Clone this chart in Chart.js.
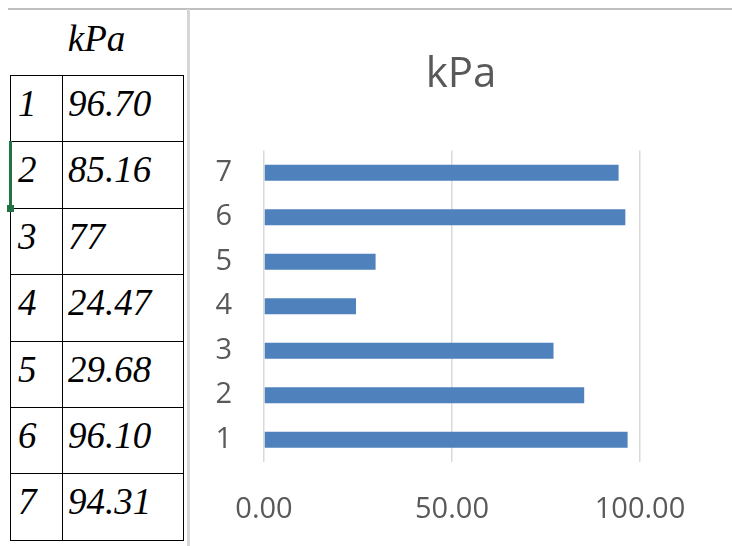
<!DOCTYPE html>
<html>
<head>
<meta charset="utf-8">
<script src="https://cdn.jsdelivr.net/npm/chart.js@4/dist/chart.umd.min.js"></script>
<style>
  html,body{margin:0;padding:0;background:#fff;width:732px;height:546px;overflow:hidden;}
  #topline{position:absolute;left:8px;top:8px;width:724px;height:2px;background:#bfbfbf;}
  #vline{position:absolute;left:187px;top:9px;width:3px;height:537px;background:#d6d6d6;}
  #tbl{position:absolute;left:10px;top:75px;border-collapse:collapse;font-family:"Liberation Serif","Times New Roman",serif;font-style:italic;font-size:37px;color:#000;}
  #tbl td{border:1.5px solid #000;height:66.4px;padding:0;vertical-align:top;line-height:37px;box-sizing:border-box;}
  #tbl td.a{width:52px;padding-left:7px;}
  #tbl td.b{width:121px;padding-left:5px;}
  #tbl td div{margin-top:9px;}
  #hdr{position:absolute;left:10px;width:173px;top:20px;text-align:center;font-family:"Liberation Serif","Times New Roman",serif;font-style:italic;font-size:37px;line-height:37px;}
  #sel{position:absolute;left:9px;top:141px;width:3px;height:67px;background:#217346;}
  #selb{position:absolute;left:7px;top:205px;width:7px;height:7px;background:#217346;}
  #wrap{position:absolute;left:190px;top:10px;width:542px;height:536px;}
</style>
</head>
<body>
<div id="topline"></div>
<div id="vline"></div>
<div id="hdr"></div>
<table id="tbl"></table>
<div id="sel"></div><div id="selb"></div>
<div id="wrap"><canvas id="c" width="542" height="536"></canvas></div>
<script>
const categories = ['1','2','3','4','5','6','7'];
const valueLabels = ['96.70','85.16','77','24.47','29.68','96.10','94.31'];
const values = [96.70, 85.16, 77, 24.47, 29.68, 96.10, 94.31];
const title = 'kPa';
const xTicks = [0, 50, 100];

// table
document.getElementById('hdr').textContent = title;
const tbl = document.getElementById('tbl');
categories.forEach((c,i)=>{
  const tr = document.createElement('tr');
  tr.innerHTML = '<td class="a"><div>'+c+'</div></td><td class="b"><div>'+valueLabels[i]+'</div></td>';
  tbl.appendChild(tr);
});

const tickFont = {family:'"Open Sans", sans-serif', size:29};
new Chart(document.getElementById('c'), {
  type:'bar',
  data:{labels:categories, datasets:[{data:values, backgroundColor:'#4F81BD', borderWidth:0, barPercentage:0.36, categoryPercentage:1}]},
  options:{
    responsive:false, animation:false, indexAxis:'y',
    layout:{padding:0},
    plugins:{
      legend:{display:false}, tooltip:{enabled:false},
      title:{display:true, text:title, color:'#595959', font:{family:'"Open Sans", sans-serif', size:42, weight:'normal'}, padding:{top:40,bottom:50}}
    },
    scales:{
      x:{min:0,max:100,
         afterBuildTicks:(s)=>{s.ticks = xTicks.map(v=>({value:v}));},
         ticks:{color:'#595959', font:tickFont, padding:30, callback:(v)=>Number(v).toFixed(2), maxRotation:0},
         grid:{color:'#d9d9d9', lineWidth:1.5, drawTicks:false},
         border:{display:false},
         afterFit:(s)=>{s.height=84;}
      },
      y:{reverse:true,
         ticks:{color:'#595959', font:tickFont, padding:32},
         grid:{display:false, drawTicks:false},
         border:{display:false},
         afterFit:(s)=>{s.width=74;}
      },
      yRight:{position:'right', axis:'y', type:'category', labels:categories, reverse:true,
         ticks:{display:false},
         grid:{display:false, drawTicks:false},
         border:{display:false},
         afterFit:(s)=>{s.width=92;}
      }
    }
  }
});
</script>
</body>
</html>
